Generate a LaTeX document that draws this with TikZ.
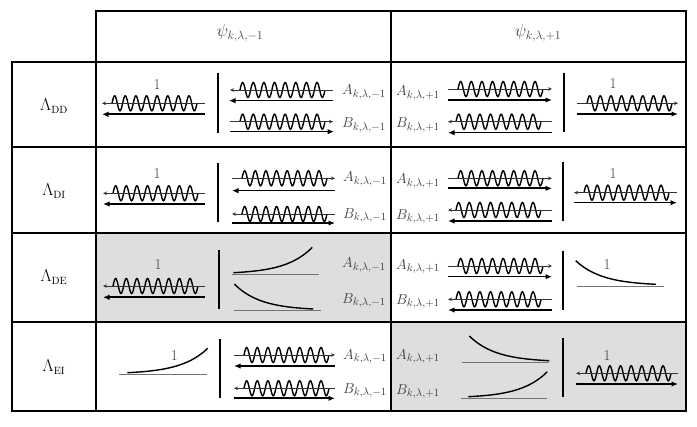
\documentclass[tikz,border=0pt]{standalone}
\usetikzlibrary{arrows.meta}
\definecolor{cellgray}{RGB}{221,222,224}
\definecolor{txtgray}{RGB}{60,60,60}
\tikzset{
  grid/.style={line width=1.1pt, black},
  thinarr/.style={black!80, line width=0.8pt, -{Stealth[length=4pt,width=3.6pt]}},
  thickarr/.style={black, line width=1.6pt, -{Latex[length=6.5pt,width=5.5pt]}},
  wavy/.style={black, line width=1.4pt},
  barline/.style={black, line width=2.2pt},
  expcurve/.style={black, line width=1.4pt},
  baseline/.style={black!55, line width=1pt},
  lbl/.style={anchor=west, inner sep=0pt, text=txtgray, font=\fontsize{15.5}{18}\selectfont},
  one/.style={inner sep=0pt, text=txtgray, font=\fontsize{15}{18}\selectfont},
  head/.style={inner sep=0pt, text=txtgray, font=\fontsize{18}{22}\selectfont},
  rowlbl/.style={inner sep=0pt, font=\fontsize{18}{22}\selectfont}
}
\newcommand{\sbx}[1]{\hbox{\fontsize{10.5}{12}\selectfont #1}}
\newcommand{\wave}[2]{\draw[wavy] plot[domain=0:1,samples=161,smooth] ({#1+10+85*\x},{#2-7.5*sin(2880*\x)});}
\newcommand{\grow}[4]{\draw[expcurve] plot[domain=0:1,samples=60,smooth] ({#1+(#2-#1)*\x},{#3-#4*(exp(3*\x)-1)/19.0855});}
\newcommand{\decay}[4]{\draw[expcurve] plot[domain=0:1,samples=60,smooth] ({#1+(#2-#1)*\x},{#3-#4*(exp(3*(1-\x))-1)/19.0855});}
\begin{document}
\begin{tikzpicture}[x=1pt,y=-1pt]
\useasboundingbox (0,0) rectangle (697,427);
% gray cells
\fill[cellgray] (96,233) rectangle (391,322);
\fill[cellgray] (391,322) rectangle (686,411);
% grid
\draw[grid] (96,11) rectangle (686,411);
\draw[grid] (12,62) rectangle (686,411);
\draw[grid] (391,11) -- (391,411);
\draw[grid] (12,147) -- (686,147);
\draw[grid] (12,233) -- (686,233);
\draw[grid] (12,322) -- (686,322);
% headers
\node[head] (h1) at (240,33) {$\psi_{k,\lambda,-1}$};
\node[head] (h2) at (538,33) {$\psi_{k,\lambda,+1}$};
\node[rowlbl] (l1) at (54,106) {$\Lambda_{\sbx{DD}}$};
\node[rowlbl] (l2) at (54,191) {$\Lambda_{\sbx{DI}}$};
\node[rowlbl] (l3) at (54,277) {$\Lambda_{\sbx{DE}}$};
\node[rowlbl] (l4) at (54,367) {$\Lambda_{\sbx{EI}}$};

% ===== Row 1 left
\node[one] (o11) at (157,85) {1};
\wave{102}{103.3}
\draw[thinarr] (205,103.3) -- (102,103.3);
\draw[thickarr] (205,114.3) -- (102,114.3);
\draw[barline] (218,73) -- (218,133);
\wave{230}{90}
\draw[thinarr] (333,90) -- (230,90);
\draw[thickarr] (333,100.7) -- (229,100.7);
\wave{230}{121.7}
\draw[thinarr] (230,121.7) -- (333,121.7);
\draw[thickarr] (230,131.7) -- (334,131.7);
\node[lbl] (a11) at (342,92) {$A_{k,\lambda,-1}$};
\node[lbl] (b11) at (342,125) {$B_{k,\lambda,-1}$};
% ===== Row 1 right
\node[lbl] (a12) at (396,93) {$A_{k,\lambda,+1}$};
\node[lbl] (b12) at (396,125) {$B_{k,\lambda,+1}$};
\wave{448}{89}
\draw[thinarr] (448,89) -- (552,89);
\draw[thickarr] (448,100) -- (552,100);
\wave{446}{121.7}
\draw[thinarr] (552,121.7) -- (448,121.7);
\draw[thickarr] (552,132.7) -- (448,132.7);
\draw[barline] (564,72.7) -- (564,131.7);
\node[one] (o12) at (613,84) {1};
\wave{577}{103.3}
\draw[thinarr] (577,103.3) -- (678,103.3);
\draw[thickarr] (577,114) -- (678,114);

% ===== Row 2 left
\node[one] (o21) at (157,174) {1};
\wave{103}{193.3}
\draw[thinarr] (205,193.3) -- (103,193.3);
\draw[thickarr] (205,204) -- (103,204);
\draw[barline] (218,163) -- (218,222);
\wave{232}{178.3}
\draw[thinarr] (232,178.3) -- (335,178.3);
\draw[thickarr] (335,190.7) -- (232,190.7);
\wave{232}{214}
\draw[thinarr] (335,214) -- (232,214);
\draw[thickarr] (232,223) -- (335,223);
\node[lbl] (a21) at (343,179) {$A_{k,\lambda,-1}$};
\node[lbl] (b21) at (343,215.5) {$B_{k,\lambda,-1}$};
% ===== Row 2 right
\node[lbl] (a22) at (396,181) {$A_{k,\lambda,+1}$};
\node[lbl] (b22) at (396,216.5) {$B_{k,\lambda,+1}$};
\wave{448}{178.3}
\draw[thinarr] (448,178.3) -- (552,178.3);
\draw[thickarr] (448,188.3) -- (552,188.3);
\wave{446}{210}
\draw[thinarr] (552,210) -- (448,210);
\draw[thickarr] (552,221) -- (448,221);
\draw[barline] (563,161.7) -- (563,221);
\node[one] (o22) at (613,174) {1};
\wave{574}{192.7}
\draw[thinarr] (677,192.7) -- (574,192.7);
\draw[thickarr] (574,202.7) -- (677,202.7);

% ===== Row 3 left (gray)
\node[one] (o31) at (158,265) {1};
\wave{103}{286}
\draw[thinarr] (205,286) -- (103,286);
\draw[thickarr] (205,297.3) -- (103,297.3);
\draw[barline] (219,250) -- (219,309);
\draw[baseline] (232,274.3) -- (319,274.3);
\grow{233.3}{312.3}{272.7}{25.4}
\decay{234.3}{313.3}{309}{25}
\draw[baseline] (234,310.7) -- (321,310.7);
\node[lbl] (a31) at (342,265) {$A_{k,\lambda,-1}$};
\node[lbl] (b31) at (342,300.7) {$B_{k,\lambda,-1}$};
% ===== Row 3 right
\node[lbl] (a32) at (396,266.7) {$A_{k,\lambda,+1}$};
\node[lbl] (b32) at (396,301.5) {$B_{k,\lambda,+1}$};
\wave{448}{266}
\draw[thinarr] (448,266) -- (552,266);
\draw[thickarr] (448,276.7) -- (552,276.7);
\wave{446}{299.3}
\draw[thinarr] (552,299.3) -- (448,299.3);
\draw[thickarr] (552,310) -- (448,310);
\draw[barline] (563.3,250.7) -- (563.3,310);
\decay{575.7}{656}{284.3}{23.6}
\draw[baseline] (576.7,286.7) -- (664,286.7);
\node[one] (o32) at (607,265) {1};

% ===== Row 4 left
\draw[baseline] (119.3,375) -- (206.7,375);
\grow{127.3}{207.7}{372.7}{24.4}
\node[one] (o41) at (174.3,356) {1};
\draw[barline] (220,339.3) -- (220,398.3);
\wave{234}{355}
\draw[thinarr] (234,355) -- (335,355);
\draw[thickarr] (335,366) -- (234,366);
\wave{234}{388.3}
\draw[thinarr] (335,388.3) -- (234,388.3);
\draw[thickarr] (234,398.3) -- (335,398.3);
\node[lbl] (a41) at (343,356.7) {$A_{k,\lambda,-1}$};
\node[lbl] (b41) at (343,390.7) {$B_{k,\lambda,-1}$};
% ===== Row 4 right (gray)
\node[lbl] (a42) at (396,356.7) {$A_{k,\lambda,+1}$};
\node[lbl] (b42) at (396,391.7) {$B_{k,\lambda,+1}$};
\decay{469.3}{549.3}{360.7}{24.7}
\draw[baseline] (461.7,362.7) -- (549.3,362.7);
\grow{468.3}{547.3}{396.7}{25}
\draw[baseline] (460.7,398.3) -- (546.7,398.3);
\draw[barline] (562.7,338.3) -- (562.7,397.3);
\node[one] (o42) at (607,356) {1};
\wave{576}{373.3}
\draw[thinarr] (678,373.3) -- (576,373.3);
\draw[thickarr] (576,384) -- (678,384);
\end{tikzpicture}
\end{document}
